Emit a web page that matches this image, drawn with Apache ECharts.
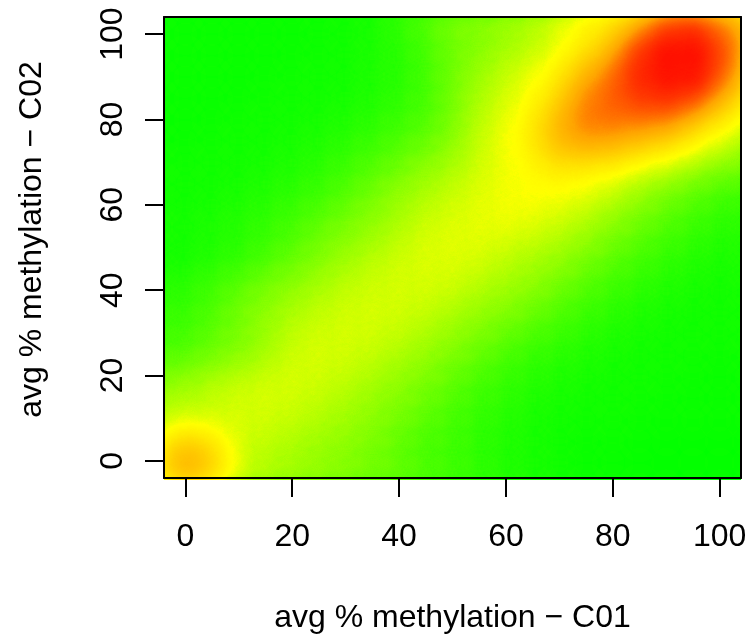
<!DOCTYPE html>
<html>
<head>
<meta charset="utf-8">
<style>
html, body { margin: 0; padding: 0; background: #ffffff; }
#chart { width: 751px; height: 639px; }
</style>
<script src="https://cdn.jsdelivr.net/npm/echarts@6/dist/echarts.min.js"></script>
</head>
<body>
<div id="chart"></div>
<script>
// Bin centres (% methylation) of the 2-D density grid
const c01Bins = [-5, 0, 5, 10, 15, 20, 25, 30, 35, 40, 45, 50, 55, 60, 65, 70, 75, 80, 85, 90, 95, 100, 105];
const c02Bins = [105, 100, 95, 90, 85, 80, 75, 70, 65, 60, 55, 50, 45, 40, 35, 30, 25, 20, 15, 10, 5, 0, -5];

// Binned site density (per mille of the peak), one row per C02 bin, columns follow c01Bins
const d105 = [10, 11, 11, 11, 13, 13, 14, 16, 21, 35, 49, 67, 71, 81, 95, 118, 152, 170, 170, 290, 310, 250, 210];
const d100 = [11, 10, 10, 11, 11, 13, 13, 14, 20, 32, 45, 66, 71, 84, 95, 116, 156, 198, 390, 680, 760, 500, 310];
const d95  = [11, 10, 11, 11, 13, 13, 14, 16, 23, 29, 42, 59, 76, 94, 107, 137, 198, 300, 660, 920, 920, 580, 270];
const d90  = [11, 10, 11, 13, 13, 14, 16, 17, 23, 29, 41, 62, 88, 107, 137, 173, 300, 470, 720, 870, 860, 490, 210];
const d85  = [11, 11, 11, 13, 14, 16, 17, 20, 24, 32, 42, 63, 94, 112, 144, 198, 420, 500, 610, 660, 540, 280, 180];
const d80  = [13, 11, 13, 14, 16, 17, 20, 24, 29, 38, 45, 67, 102, 124, 165, 300, 450, 450, 430, 400, 240, 165, 133];
const d75  = [13, 13, 14, 16, 17, 20, 24, 29, 38, 45, 57, 74, 106, 137, 173, 300, 350, 320, 250, 205, 156, 116, 95];
const d70  = [14, 14, 16, 17, 18, 23, 29, 38, 45, 57, 73, 86, 112, 128, 150, 198, 165, 165, 131, 116, 95, 80, 71];
const d65  = [16, 16, 17, 18, 23, 27, 35, 43, 57, 73, 85, 104, 117, 133, 145, 148, 140, 117, 95, 74, 62, 49, 43];
const d60  = [17, 17, 18, 23, 27, 35, 45, 55, 71, 85, 100, 112, 125, 136, 138, 122, 112, 88, 74, 57, 45, 38, 33];
const d55  = [18, 18, 23, 27, 35, 45, 55, 69, 79, 96, 113, 120, 126, 128, 119, 108, 87, 74, 57, 45, 38, 29, 27];
const d50  = [17, 17, 23, 29, 38, 49, 67, 79, 94, 108, 118, 124, 120, 109, 99, 85, 73, 57, 45, 38, 29, 24, 23];
const d45  = [21, 23, 30, 41, 50, 67, 79, 94, 105, 114, 120, 118, 109, 96, 85, 73, 57, 45, 38, 29, 24, 20, 20];
const d40  = [27, 32, 42, 55, 69, 79, 94, 105, 114, 117, 114, 108, 96, 85, 73, 57, 45, 38, 29, 24, 20, 17, 18];
const d35  = [30, 36, 45, 62, 79, 94, 105, 114, 117, 114, 105, 94, 79, 71, 57, 45, 38, 29, 24, 20, 17, 16, 17];
const d30  = [41, 45, 56, 69, 82, 105, 114, 117, 114, 105, 94, 79, 69, 55, 43, 38, 29, 24, 20, 17, 16, 14, 14];
const d25  = [44, 46, 60, 71, 87, 114, 117, 114, 105, 94, 79, 69, 55, 45, 35, 29, 24, 20, 17, 16, 14, 13, 14];
const d20  = [71, 80, 94, 105, 114, 117, 114, 105, 94, 79, 69, 55, 45, 35, 27, 23, 18, 17, 16, 14, 13, 11, 13];
const d15  = [91, 94, 105, 114, 117, 114, 105, 94, 79, 73, 60, 46, 39, 32, 23, 18, 17, 16, 14, 13, 11, 11, 11];
const d10  = [108, 105, 114, 117, 114, 105, 94, 85, 77, 64, 50, 44, 33, 26, 18, 17, 16, 14, 13, 11, 11, 10, 11];
const d5   = [132, 224, 167, 114, 105, 94, 85, 77, 67, 56, 45, 38, 32, 24, 18, 16, 13, 10, 10, 8, 8, 8, 8];
const d0   = [181, 397, 254, 105, 95, 87, 77, 71, 62, 53, 45, 38, 30, 23, 18, 14, 11, 10, 8, 8, 8, 6, 8];
const dm5  = [150, 201, 152, 108, 98, 88, 78, 74, 64, 56, 46, 41, 33, 26, 20, 16, 13, 11, 10, 8, 8, 8, 8];
const densityRows = [d105, d100, d95, d90, d85, d80, d75, d70, d65, d60, d55, d50,
                     d45, d40, d35, d30, d25, d20, d15, d10, d5, d0, dm5];

// Axis ticks and titles
const tickValues = [0, 20, 40, 60, 80, 100];
const xTitle = 'avg % methylation \u2212 C01';
const yTitle = 'avg % methylation \u2212 C02';

// Colour ramp: low density -> high density
const rampColors = ['#00ff00', '#ffff00', '#ffa500', '#ff0000'];

// ---- layout / styling ----
const axisMin = -4, axisMax = 104;
const plotBox = { left: 164, top: 17, width: 577, height: 463 };
const fontFamily = '"Liberation Sans", Arial, Helvetica, sans-serif';
const frameLine = { color: '#000000', width: 2 };
const textStyle = { fontSize: 32, color: '#000000', fontFamily: fontFamily };

// The plotting square is registered as a flat region so the heatmap can be
// drawn with the kernel-blur layer (smooth density) instead of square cells.
echarts.registerMap('plotRegion', {
  type: 'FeatureCollection',
  features: [{
    type: 'Feature',
    properties: { name: 'plot' },
    geometry: {
      type: 'Polygon',
      coordinates: [[[axisMin, axisMin], [axisMax, axisMin], [axisMax, axisMax], [axisMin, axisMax], [axisMin, axisMin]]]
    }
  }]
});

const points = [];
densityRows.forEach(function (row, i) {
  row.forEach(function (v, j) {
    points.push([c01Bins[j], c02Bins[i], v]);
  });
});

const chart = echarts.init(document.getElementById('chart'), null, { renderer: 'canvas' });

chart.setOption({
  animation: false,
  backgroundColor: '#ffffff',
  geo: {
    map: 'plotRegion',
    roam: false,
    silent: true,
    boundingCoords: [[axisMin, axisMax], [axisMax, axisMin]],
    aspectScale: plotBox.width / plotBox.height,
    left: plotBox.left, top: plotBox.top, width: plotBox.width, height: plotBox.height,
    itemStyle: { areaColor: rampColors[0], borderWidth: 0 },
    label: { show: false },
    emphasis: { disabled: true },
    select: { disabled: true },
    z: 0
  },
  visualMap: {
    type: 'continuous',
    show: false,
    min: 0,
    max: 1000,
    seriesIndex: 0,
    inRange: { color: rampColors }
  },
  grid: { left: plotBox.left, top: plotBox.top, width: plotBox.width, height: plotBox.height, show: false },
  xAxis: [
    {
      type: 'value', min: axisMin, max: axisMax, position: 'bottom', z: 10,
      axisLine: { show: true, onZero: false, lineStyle: frameLine },
      axisTick: { show: true, length: 19, lineStyle: frameLine, customValues: tickValues },
      axisLabel: Object.assign({ margin: 43, customValues: tickValues }, textStyle),
      splitLine: { show: false },
      name: xTitle, nameLocation: 'middle', nameGap: 124, nameTextStyle: textStyle
    },
    {
      type: 'value', min: axisMin, max: axisMax, position: 'top', z: 10,
      axisLine: { show: true, onZero: false, lineStyle: frameLine },
      axisTick: { show: false }, axisLabel: { show: false }, splitLine: { show: false }
    }
  ],
  yAxis: [
    {
      type: 'value', min: axisMin, max: axisMax, position: 'left', z: 10,
      axisLine: { show: true, onZero: false, lineStyle: frameLine },
      axisTick: { show: true, length: 19, lineStyle: frameLine, customValues: tickValues },
      axisLabel: Object.assign({ margin: 35, rotate: 90, customValues: tickValues }, textStyle),
      splitLine: { show: false },
      name: yTitle, nameLocation: 'middle', nameGap: 116,
      nameTextStyle: Object.assign({ padding: [0, 0, 0, 16] }, textStyle)
    },
    {
      type: 'value', min: axisMin, max: axisMax, position: 'right', z: 10,
      axisLine: { show: true, onZero: false, lineStyle: frameLine },
      axisTick: { show: false }, axisLabel: { show: false }, splitLine: { show: false }
    }
  ],
  series: [{
    type: 'heatmap',
    coordinateSystem: 'geo',
    geoIndex: 0,
    pointSize: 24,
    blurSize: 24,
    minOpacity: 1,
    maxOpacity: 1,
    silent: true,
    data: points
  }]
});
</script>
</body>
</html>
